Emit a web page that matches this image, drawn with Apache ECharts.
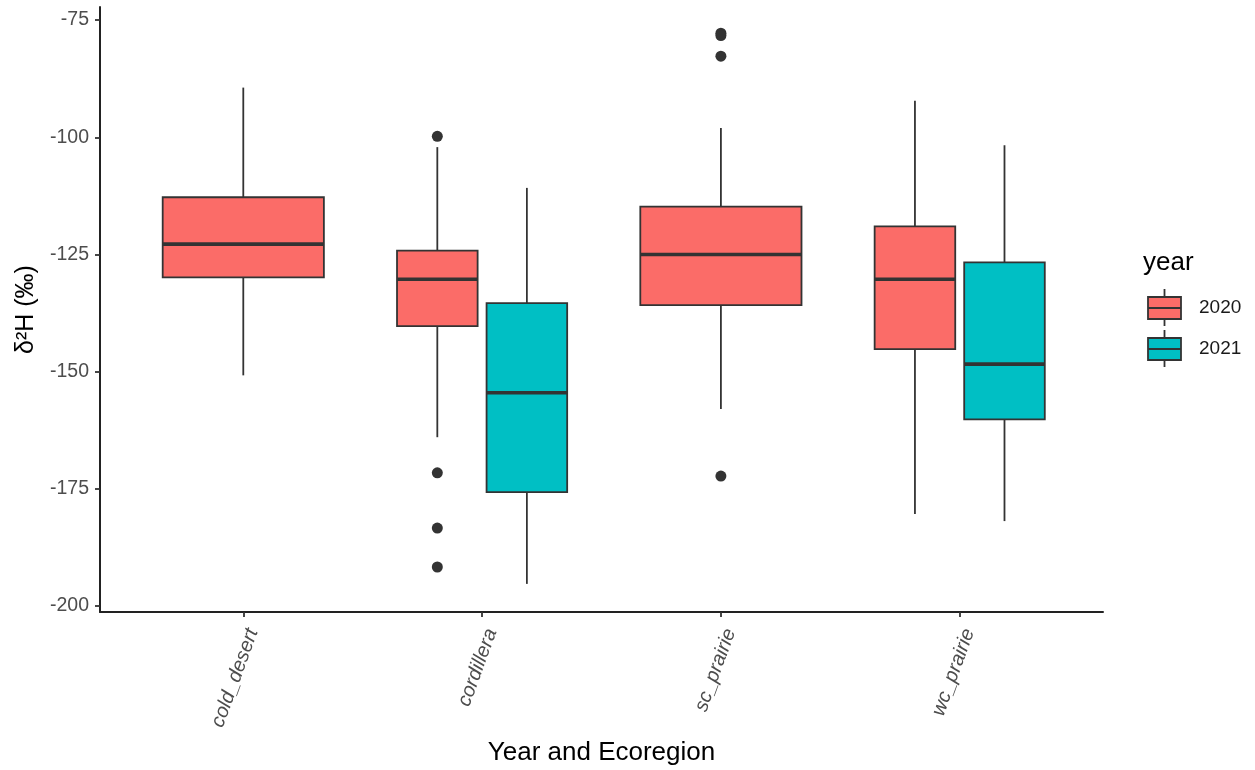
<!DOCTYPE html>
<html>
<head>
<meta charset="utf-8">
<script src="https://cdn.jsdelivr.net/npm/echarts@6/dist/echarts.min.js"></script>
<style>
html,body{margin:0;padding:0;background:#fff;}
#chart{width:1255px;height:770px;}
</style>
</head>
<body>
<div id="chart"></div>
<script>
// ---- data ----
const categories = ['cold_desert', 'cordillera', 'sc_prairie', 'wc_prairie'];
const years = ['2020', '2021'];
// [lower whisker, Q1, median, Q3, upper whisker]; null = no box
const stats2020 = [
  [-150.8, -129.9, -122.8, -112.8, -89.4],
  [-164.0, -140.3, -130.3, -124.2, -102.1],
  [-158.0, -135.8, -125.0, -114.8, -98.0],
  [-180.4, -145.2, -130.3, -119.0, -92.2]
];
const stats2021 = [
  null,
  [-195.3, -175.7, -154.5, -135.4, -110.8],
  null,
  [-181.9, -160.2, -148.4, -126.7, -101.7]
];
const outliers2020 = [
  [],
  [-99.8, -171.6, -183.4, -191.7],
  [-77.8, -78.3, -82.7, -172.3],
  []
];
const outliers2021 = [[], [], [], []];
const yTicks = [-200, -175, -150, -125, -100, -75];
const yMin = -201.3, yMax = -72.2;

// ---- styling ----
const yearColors = ['#FB6C68', '#00BFC4'];
const lineCol = '#333333';
const FONT = "'Liberation Sans', Arial, Helvetica, sans-serif";

const statsByYear = [stats2020, stats2021];
const outByYear = [outliers2020, outliers2021];

function dodge(ci, yi) {
  const present = [];
  statsByYear.forEach((s, i) => { if (s[ci]) present.push(i); });
  const n = present.length;
  const k = present.indexOf(yi);
  const total = 0.75;
  const slot = total / n;
  return { offset: (k - (n - 1) / 2) * slot, width: slot * 0.9 };
}

function boxSeries(yi) {
  const data = [];
  statsByYear[yi].forEach((s, ci) => { if (s) data.push([ci].concat(s)); });
  return {
    type: 'custom',
    name: years[yi],
    data: data,
    encode: { x: 0, y: [1, 2, 3, 4, 5] },
    renderItem: function (params, api) {
      const ci = api.value(0);
      const d = dodge(ci, yi);
      const xc = ci + 1 + d.offset;
      const cx = api.coord([xc, api.value(3)])[0];
      const hw = api.size([d.width, 0])[0] / 2;
      const yLo = api.coord([xc, api.value(1)])[1];
      const yQ1 = api.coord([xc, api.value(2)])[1];
      const yMed = api.coord([xc, api.value(3)])[1];
      const yQ3 = api.coord([xc, api.value(4)])[1];
      const yHi = api.coord([xc, api.value(5)])[1];
      const ls = { stroke: lineCol, lineWidth: 1.8 };
      return {
        type: 'group',
        children: [
          { type: 'line', shape: { x1: cx, y1: yQ3, x2: cx, y2: yHi }, style: ls },
          { type: 'line', shape: { x1: cx, y1: yQ1, x2: cx, y2: yLo }, style: ls },
          { type: 'rect', shape: { x: cx - hw, y: yQ3, width: 2 * hw, height: yQ1 - yQ3 },
            style: { fill: yearColors[yi], stroke: lineCol, lineWidth: 1.8 } },
          { type: 'line', shape: { x1: cx - hw, y1: yMed, x2: cx + hw, y2: yMed },
            style: { stroke: lineCol, lineWidth: 3.6 } }
        ]
      };
    },
    z: 2
  };
}

function outlierSeries(yi) {
  const data = [];
  outByYear[yi].forEach((arr, ci) => arr.forEach(v => data.push([ci, v])));
  return {
    type: 'custom',
    name: years[yi] + ' outliers',
    data: data,
    encode: { x: 0, y: 1 },
    renderItem: function (params, api) {
      const ci = api.value(0);
      const d = dodge(ci, yi);
      const p = api.coord([ci + 1 + d.offset, api.value(1)]);
      return { type: 'circle', shape: { cx: p[0], cy: p[1], r: 5.5 }, style: { fill: lineCol } };
    },
    z: 3
  };
}

const chart = echarts.init(document.getElementById('chart'), null, { renderer: 'canvas' });

// legend drawn as graphics (boxplot glyph keys)
function legendKey(yi, top) {
  const x = 1148, w = 33, h = 22;
  const cx = x + w / 2;
  return [
    { type: 'line', shape: { x1: cx, y1: top - 8, x2: cx, y2: top + h + 7 }, style: { stroke: lineCol, lineWidth: 1.8 } },
    { type: 'rect', shape: { x: x, y: top, width: w, height: h }, style: { fill: yearColors[yi], stroke: lineCol, lineWidth: 1.8 } },
    { type: 'line', shape: { x1: x, y1: top + h / 2, x2: x + w, y2: top + h / 2 }, style: { stroke: lineCol, lineWidth: 1.8 } },
    { type: 'text', left: 1199, top: top + h / 2 - 10, style: { text: years[yi], font: '19px ' + FONT, fill: '#1a1a1a' } }
  ];
}

const option = {
  animation: false,
  backgroundColor: '#ffffff',
  grid: { left: 100, right: 152, top: 7, bottom: 158, containLabel: false, outerBoundsMode: 'none' },
  xAxis: {
    type: 'value',
    min: 0.4,
    max: 4.6,
    name: 'Year and Ecoregion',
    nameLocation: 'middle',
    nameGap: 128,
    nameTextStyle: { fontFamily: FONT, fontSize: 26, color: '#000' },
    axisLine: { show: true, lineStyle: { color: '#222', width: 2 } },
    axisTick: { show: true, customValues: [1, 2, 3, 4], length: 5, lineStyle: { color: '#333', width: 1.8 } },
    axisLabel: {
      customValues: [1, 2, 3, 4],
      formatter: v => categories[Math.round(v) - 1],
      rotate: 70,
      margin: 14,
      verticalAlign: 'top',
      fontFamily: FONT,
      fontStyle: 'italic',
      fontSize: 20,
      color: '#4D4D4D'
    },
    splitLine: { show: false }
  },
  yAxis: {
    type: 'value',
    min: yMin,
    max: yMax,
    name: 'δ²H (‰)',
    nameLocation: 'middle',
    nameGap: 60,
    nameRotate: 90,
    nameTextStyle: { fontFamily: FONT, fontSize: 25, color: '#000' },
    axisLine: { show: true, lineStyle: { color: '#222', width: 2 } },
    axisTick: { show: true, customValues: yTicks, length: 5, lineStyle: { color: '#333', width: 1.8 } },
    axisLabel: {
      customValues: yTicks,
      margin: 11,
      fontFamily: FONT,
      fontSize: 19.5,
      color: '#4D4D4D'
    },
    splitLine: { show: false }
  },
  graphic: [
    { type: 'text', left: 1143, top: 250, style: { text: 'year', font: '26px ' + FONT, fill: '#000' } }
  ].concat(legendKey(0, 297), legendKey(1, 338)),
  series: [boxSeries(0), boxSeries(1), outlierSeries(0), outlierSeries(1)]
};
chart.setOption(option);
</script>
</body>
</html>
